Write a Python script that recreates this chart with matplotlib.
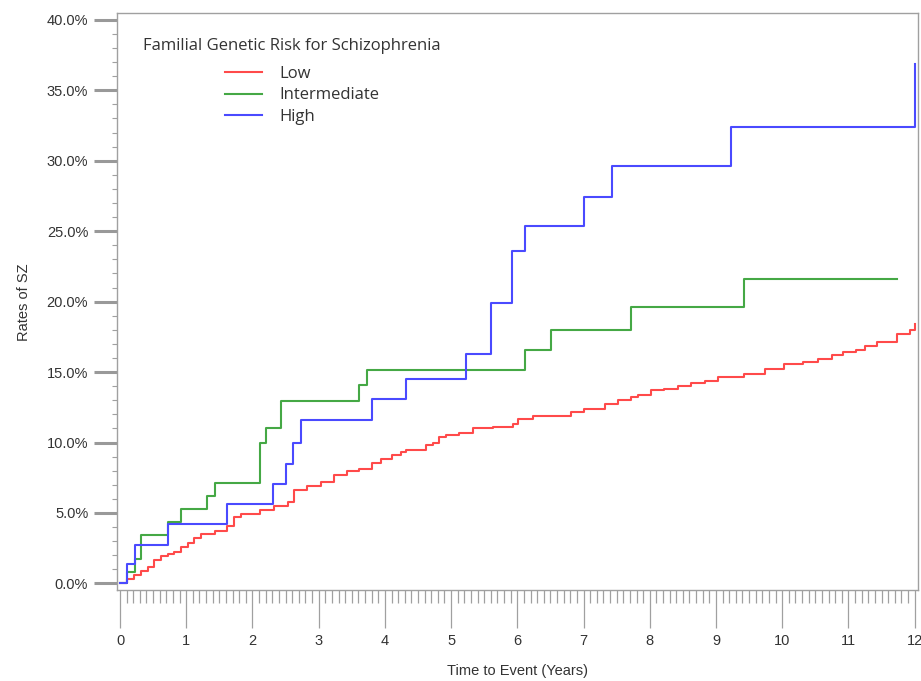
import matplotlib
matplotlib.use("Agg")
import matplotlib.pyplot as plt
from matplotlib.ticker import MultipleLocator, FuncFormatter

# step points (time in years, cumulative rate in %)
low_t = [0, 0.11, 0.21, 0.31, 0.42, 0.51, 0.62, 0.72, 0.82, 0.92, 1.02, 1.12, 1.22,
         1.43, 1.62, 1.72, 1.82, 2.12, 2.32, 2.53, 2.63, 2.83, 3.03, 3.23, 3.43, 3.61,
         3.81, 3.94, 4.11, 4.24, 4.32, 4.62, 4.72, 4.82, 4.92, 5.12, 5.33, 5.63, 5.93,
         6.01, 6.23, 6.81, 7.01, 7.32, 7.52, 7.71, 7.82, 8.02, 8.22, 8.43, 8.63, 8.83,
         9.03, 9.43, 9.74, 10.02, 10.32, 10.54, 10.75, 10.92, 11.12, 11.25, 11.43,
         11.73, 11.93, 12.0]
low_v = [0, 0.28, 0.57, 0.88, 1.16, 1.63, 1.94, 2.1, 2.2, 2.6, 2.9, 3.2, 3.5,
         3.7, 4.1, 4.7, 4.95, 5.2, 5.5, 5.8, 6.6, 6.9, 7.2, 7.7, 7.95, 8.15,
         8.55, 8.85, 9.1, 9.3, 9.5, 9.8, 10.0, 10.4, 10.5, 10.7, 11.0, 11.1, 11.3,
         11.7, 11.9, 12.2, 12.4, 12.7, 13.0, 13.2, 13.4, 13.7, 13.8, 14.0, 14.2, 14.4,
         14.65, 14.85, 15.2, 15.55, 15.7, 15.9, 16.2, 16.4, 16.6, 16.85, 17.1,
         17.7, 18.0, 18.4]

mid_t = [0, 0.11, 0.22, 0.31, 0.72, 0.92, 1.32, 1.43, 2.11, 2.21, 2.43, 3.61, 3.73,
         6.12, 6.51, 7.72, 9.42, 11.73]
mid_v = [0, 0.8, 1.7, 3.4, 4.35, 5.26, 6.2, 7.12, 10.0, 11.0, 12.95, 14.06, 15.13,
         16.6, 18.0, 19.6, 21.57, 21.57]

high_t = [0, 0.11, 0.22, 0.72, 1.62, 2.31, 2.51, 2.61, 2.73, 3.81, 4.32, 5.22, 5.61,
          5.92, 6.12, 7.01, 7.43, 9.22, 12.0]
high_v = [0, 1.4, 2.75, 4.2, 5.6, 7.08, 8.5, 10.0, 11.6, 13.07, 14.54, 16.3, 19.9,
          23.6, 25.4, 27.4, 29.6, 32.4, 36.9]

groups = ["Low", "Intermediate", "High"]
colors = ["#ff4a4a", "#45a845", "#4a4aff"]
legend_title = "Familial Genetic Risk for Schizophrenia"

fig = plt.figure(figsize=(9.21, 6.81), dpi=100)
ax = fig.add_axes([0.1267, 0.1336, 0.8700, 0.8466])

for t, v, name, c in zip([low_t, mid_t, high_t], [low_v, mid_v, high_v], groups, colors):
    ax.step(t, v, where="post", color=c, lw=1.5, label=name)

ax.set_xlim(-0.05, 12.05)
ax.set_ylim(-0.47, 40.45)

ax.xaxis.set_major_locator(MultipleLocator(1))
ax.xaxis.set_minor_locator(MultipleLocator(0.1))
ax.yaxis.set_major_locator(MultipleLocator(5))
ax.yaxis.set_minor_locator(MultipleLocator(1))
ax.yaxis.set_major_formatter(FuncFormatter(lambda y, p: f"{y:.1f}%"))

for s in ax.spines.values():
    s.set_color("#a0a0a0")
    s.set_linewidth(1.0)

ax.tick_params(axis="x", which="major", length=27, width=0.9, color="#a0a0a0",
               pad=5, labelsize=10.5, labelcolor="#333333")
ax.tick_params(axis="x", which="minor", length=9, width=0.9, color="#a0a0a0")
ax.tick_params(axis="y", which="major", length=16.5, width=2.2, color="#999999",
               pad=4, labelsize=10.5, labelcolor="#333333")
ax.tick_params(axis="y", which="minor", length=3.5, width=0.8, color="#a0a0a0")
for lab in ax.get_xticklabels() + ax.get_yticklabels():
    lab.set_family("Liberation Sans")

ax.set_xlabel("Time to Event (Years)", fontsize=10.5, family="Liberation Sans",
              color="#333333", labelpad=11)
ax.set_ylabel("Rates of SZ", fontsize=10.5, family="Liberation Sans",
              color="#333333", labelpad=11)

# legend title and entries placed separately to match the indented SAS layout
ax.text(0.0328, 0.944, legend_title, transform=ax.transAxes, va="center", ha="left",
        fontsize=12, family="Open Sans", color="#333333")
leg = ax.legend(loc="upper left", bbox_to_anchor=(0.135, 0.909), frameon=False,
                borderpad=0, borderaxespad=0, handlelength=2.2, handletextpad=1.05,
                labelspacing=0.33, prop={"family": "Open Sans", "size": 12})
for txt in leg.get_texts():
    txt.set_color("#333333")

fig.savefig("out.png", dpi=100)
